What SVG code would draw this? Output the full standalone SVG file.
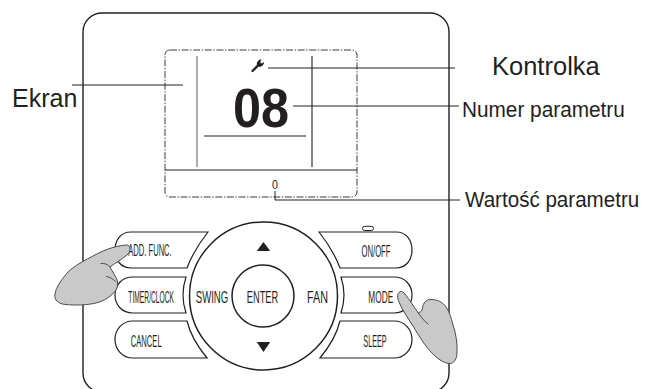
<svg xmlns="http://www.w3.org/2000/svg" width="645" height="389" viewBox="0 0 645 389">
  <style>
    .body { fill: #ffffff; stroke: #231f20; stroke-width: 1.4; }
    .frame { fill: none; stroke: #3a3a3a; stroke-width: 1; stroke-dasharray: 7 1.6 1.4 1.6; }
    .rule { stroke: #231f20; stroke-width: 1.1; fill: none; }
    .rule-grey { stroke: #8a8a8a; stroke-width: 1.4; fill: none; }
    .btn { fill: #ffffff; stroke: #231f20; stroke-width: 1.2; }
    .wheel { fill: #ffffff; stroke: #231f20; stroke-width: 1.5; }
    .key { font-family: "Liberation Sans", Arial, sans-serif; font-size: 16px; fill: #231f20; text-anchor: middle; }
    .lbl { font-family: "Liberation Sans", Arial, sans-serif; fill: #231f20; }
    .lead { stroke: #231f20; stroke-width: 1; fill: none; }
    .hand { fill: #c9c9c9; stroke: #4a4a4a; stroke-width: 1; stroke-linejoin: round; }
    .crease { fill: none; stroke: #4a4a4a; stroke-width: 1; stroke-linecap: round; }
  </style>

  <rect width="645" height="389" fill="#ffffff"/>

  <!-- remote controller housing -->
  <g id="housing">
    <rect class="body" x="83" y="13" width="366" height="379" rx="19" ry="19"/>
  </g>

  <!-- LCD screen -->
  <g id="screen">
    <rect class="frame" x="165" y="50" width="192" height="147" rx="5" ry="5"/>
    <line class="rule-grey" x1="197" y1="56" x2="197" y2="167"/>
    <line class="rule" x1="312" y1="56" x2="312" y2="167"/>
    <line class="rule" x1="204" y1="136" x2="306" y2="136"/>
    <line class="rule" x1="165" y1="170" x2="357" y2="170"/>
    <!-- service (wrench) indicator -->
    <g id="wrench" fill="#231f20">
      <line x1="252.5" y1="71" x2="258.5" y2="65" stroke="#231f20" stroke-width="2.3" stroke-linecap="round"/>
      <path d="M256.8,64.8 C256.6,61.6 258.8,59.6 261.6,59.6 L260.1,62.1 L261.5,63.6 L264,62.1 C264,64.9 261.9,66.9 259.3,66.9 Z"/>
    </g>
    <text transform="translate(261,127) scale(0.9,1)" x="0" y="0" text-anchor="middle" font-family="Liberation Sans, Arial, sans-serif" font-weight="bold" font-size="56" fill="#231f20">08</text>
    <text transform="translate(275,189) scale(0.85,1)" x="0" y="0" font-family="Liberation Sans, Arial, sans-serif" font-size="12.5" text-anchor="middle" fill="#231f20">0</text>
  </g>

  <!-- keypad -->
  <g id="btn-add-func">
    <path class="btn" d="M208,232 L131,232 C120,232 115,241 115,250 C115,260 121,268 131,268 L187,268 Q193.7,250 208,232 Z"/>
    <text class="key" transform="translate(150,256) scale(0.474,1)" x="0" y="0" font-size="13.5">ADD. FUNC.</text>
  </g>
  <g id="btn-timer-clock">
    <path class="btn" d="M186,277 L133,277 C122,277 115,285 115,295 C115,305 122,313 133,313 L186,313 Q180,295 186,277 Z"/>
    <text class="key" transform="translate(151.2,303.3) scale(0.418,1)" x="0" y="0">TIMER/CLOCK</text>
  </g>
  <g id="btn-cancel">
    <path class="btn" d="M187,321 L133,321 C122,321 115,330 115,339.5 C115,349 122,358 133,358 L207,358 Q191.6,339.5 187,321 Z"/>
    <text class="key" transform="translate(146.2,346.7) scale(0.478,1)" x="0" y="0">CANCEL</text>
  </g>
  <g id="btn-on-off">
    <rect x="362.5" y="226.3" width="11" height="4.2" rx="2.1" ry="2.1" fill="#ffffff" stroke="#231f20" stroke-width="1"/>
    <path class="btn" d="M319,232 L396,232 C407,232 412,241 412,250 C412,260 406,268 396,268 L340,268 Q333.3,250 319,232 Z"/>
    <text class="key" transform="translate(376,256.6) scale(0.48,1)" x="0" y="0">ON/OFF</text>
  </g>
  <g id="btn-mode">
    <path class="btn" d="M341,277 L394,277 C405,277 412,285 412,295 C412,305 405,313 394,313 L341,313 Q347,295 341,277 Z"/>
    <text class="key" transform="translate(380.8,303.3) scale(0.52,1)" x="0" y="0">MODE</text>
  </g>
  <g id="btn-sleep">
    <path class="btn" d="M340,321 L394,321 C405,321 412,330 412,339.5 C412,349 405,358 394,358 L320,358 Q335.4,339.5 340,321 Z"/>
    <text class="key" transform="translate(375,346.7) scale(0.454,1)" x="0" y="0">SLEEP</text>
  </g>
  <g id="wheel">
    <circle class="wheel" cx="263.5" cy="296" r="74"/>
    <polygon points="263.5,242 256.8,251 270.2,251" fill="#231f20"/>
    <polygon points="256.8,342 270.2,342 263.5,352" fill="#231f20"/>
    <text class="key" transform="translate(212,303.3) scale(0.6,1)" x="0" y="0">SWING</text>
    <text class="key" transform="translate(317.5,303.3) scale(0.675,1)" x="0" y="0">FAN</text>
  </g>
  <g id="btn-enter">
    <circle class="wheel" cx="263" cy="296" r="31" stroke-width="1.2"/>
    <text class="key" transform="translate(262.5,303.3) scale(0.583,1)" x="0" y="0">ENTER</text>
  </g>

  <!-- pressing hands -->
  <g id="hand-left">
    <path class="hand" d="M126.7,245 C120,245 105,249 95,255 C85,260 74,266 68,272 C62,279 56,287 55,294 C54,300 58,304 66,304.5 C75,305.5 88,305 96,303 C104,301 112,296 116,290 C118.5,286 118,280 115,276 C113,272 111,269 110,267 C114,264 122,259 127,255 C131,252 131,245 126.7,245 Z"/>
    <path class="crease" d="M101,263.5 C105,263 108,264.5 110,267"/>
    <path class="crease" d="M106.5,276.5 C110,277 113,279 115.5,281.5"/>
  </g>
  <g id="hand-right">
    <path class="hand" d="M400,291.7 C397,293 397,298 399,302 C402,310 408,318 413,326 C419,336 425,346 432,353 C437,358 443,363 449,363.5 C454,364 457,359 457,352 C457.5,343 456,334 453,325 C451,317 449,311 446,307 C443,302 437,299.5 431,299.5 C426,299.5 423,303 422.5,308 C422,311 420,313 418,312.5 C414,307 409,299 405,294 C403.5,292 402,291 400,291.7 Z"/>
    <path class="crease" d="M418,312.5 C421,317 424,321 428,324"/>
  </g>

  <!-- callout leaders -->
  <g id="connectors">
    <line class="lead" x1="72" y1="85" x2="183" y2="85"/>
    <line class="lead" x1="268" y1="68" x2="455" y2="68"/>
    <line class="lead" x1="293" y1="106" x2="459" y2="106"/>
    <polyline class="lead" points="275,191 275,200 460,200"/>
  </g>

  <!-- callout labels -->
  <g id="label-ekran">
    <text class="lbl" x="12" y="107" font-size="25">Ekran</text>
  </g>
  <g id="label-kontrolka">
    <text class="lbl" x="492" y="75" font-size="25.5">Kontrolka</text>
  </g>
  <g id="label-numer">
    <text class="lbl" transform="translate(462,117) scale(0.945,1)" x="0" y="0" font-size="22">Numer parametru</text>
  </g>
  <g id="label-wartosc">
    <text class="lbl" transform="translate(465,207) scale(0.936,1)" x="0" y="0" font-size="22">Wartość parametru</text>
  </g>
</svg>
